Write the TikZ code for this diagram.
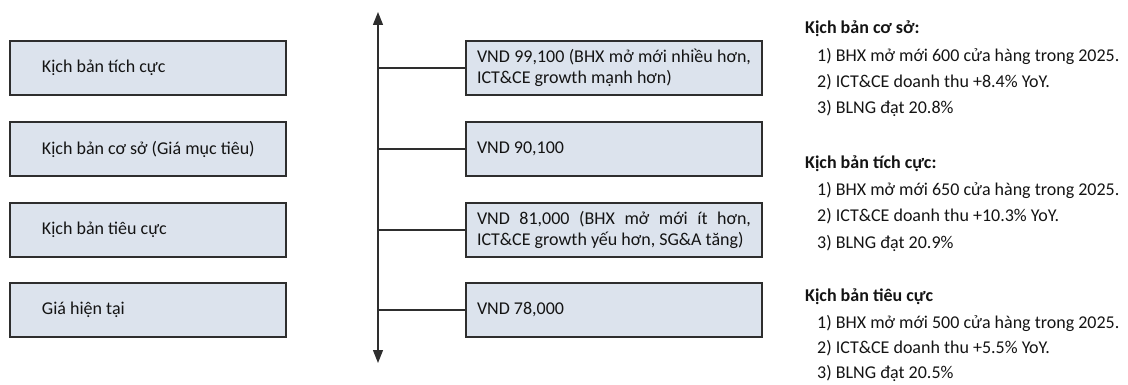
\documentclass[tikz,border=0pt]{standalone}
\usepackage{fontspec}
\setmainfont{Carlito}
\usetikzlibrary{arrows.meta}
\definecolor{boxfill}{HTML}{DCE3ED}
\definecolor{boxline}{HTML}{2E2E2E}
\definecolor{ink}{HTML}{141414}

\begin{document}
\begin{tikzpicture}[
  case/.style={draw=boxline, line width=1.5pt, fill=boxfill, minimum height=54pt,
    text width=244pt, inner xsep=16pt, inner ysep=0pt, align=justify, text=ink,
    font=\fontsize{18}{22}\selectfont},
  price/.style={draw=boxline, line width=1.5pt, fill=boxfill, minimum height=54pt,
    text width=274pt, inner xsep=11pt, inner ysep=0pt, align=justify, text=ink,
    font=\fontsize{18}{21}\selectfont},
  head/.style={anchor=base west, inner sep=0pt, text=ink,
    font=\fontsize{18}{22}\selectfont\bfseries},
  item/.style={anchor=base west, inner sep=0pt, text=ink,
    font=\fontsize{18}{22}\selectfont},
  axis/.style={line width=1.3pt, draw=boxline}
  ]

  \useasboundingbox (0pt,0pt) rectangle (1128pt,-385pt);

  % scenarios
  \node[case] (bull) at (148pt, -68pt) {\hspace*{16pt}Kịch bản tích cực};
  \node[case] (base) at (148pt,-149pt) {\hspace*{16pt}Kịch bản cơ sở (Giá mục tiêu)};
  \node[case] (bear) at (148pt,-230pt) {\hspace*{16pt}Kịch bản tiêu cực};
  \node[case] (now)  at (148pt,-310pt) {\hspace*{16pt}Giá hiện tại};

  % price axis
  \coordinate (top) at (378pt, -12pt);
  \coordinate (bot) at (378pt,-363pt);
  \draw[axis, {Triangle[length=13pt,width=10pt]}-{Triangle[length=13pt,width=10pt]}]
    (top) -- (bot);

  \node[price] (pBull) at (614pt, -68pt) {VND 99,100 (BHX mở mới nhiều hơn,\linebreak
    ICT\&CE growth mạnh hơn)};
  \node[price] (pBase) at (614pt,-149pt) {VND 90,100};
  \node[price] (pBear) at (614pt,-230pt) {VND 81,000 (BHX mở mới ít hơn,\linebreak
    ICT\&CE growth yếu hơn, SG\&A tăng)};
  \node[price] (pNow)  at (614pt,-310pt) {VND 78,000};

  \draw[axis] (pBull.west -| top) -- (pBull.west);
  \draw[axis] (pBase.west -| top) -- (pBase.west);
  \draw[axis] (pBear.west -| top) -- (pBear.west);
  \draw[axis] (pNow.west -| top)  -- (pNow.west);

  % assumptions
  \node[head] (hBase) at (805pt, -34pt) {Kịch bản cơ sở:};
  \node[item] (b1) at (817pt, -62pt) {1) BHX mở mới 600 cửa hàng trong 2025.};
  \node[item] (b2) at (817pt, -88pt) {2) ICT\&CE doanh thu +8.4\% YoY.};
  \node[item] (b3) at (817pt,-114pt) {3) BLNG đạt 20.8\%};

  \node[head] (hBull) at (805pt,-168pt) {Kịch bản tích cực:};
  \node[item] (u1) at (817pt,-196pt) {1) BHX mở mới 650 cửa hàng trong 2025.};
  \node[item] (u2) at (817pt,-222pt) {2) ICT\&CE doanh thu +10.3\% YoY.};
  \node[item] (u3) at (817pt,-248pt) {3) BLNG đạt 20.9\%};

  \node[head] (hBear) at (805pt,-301pt) {Kịch bản tiêu cực};
  \node[item] (d1) at (817pt,-328pt) {1) BHX mở mới 500 cửa hàng trong 2025.};
  \node[item] (d2) at (817pt,-353pt) {2) ICT\&CE doanh thu +5.5\% YoY.};
  \node[item] (d3) at (817pt,-378pt) {3) BLNG đạt 20.5\%};

\end{tikzpicture}
\end{document}
